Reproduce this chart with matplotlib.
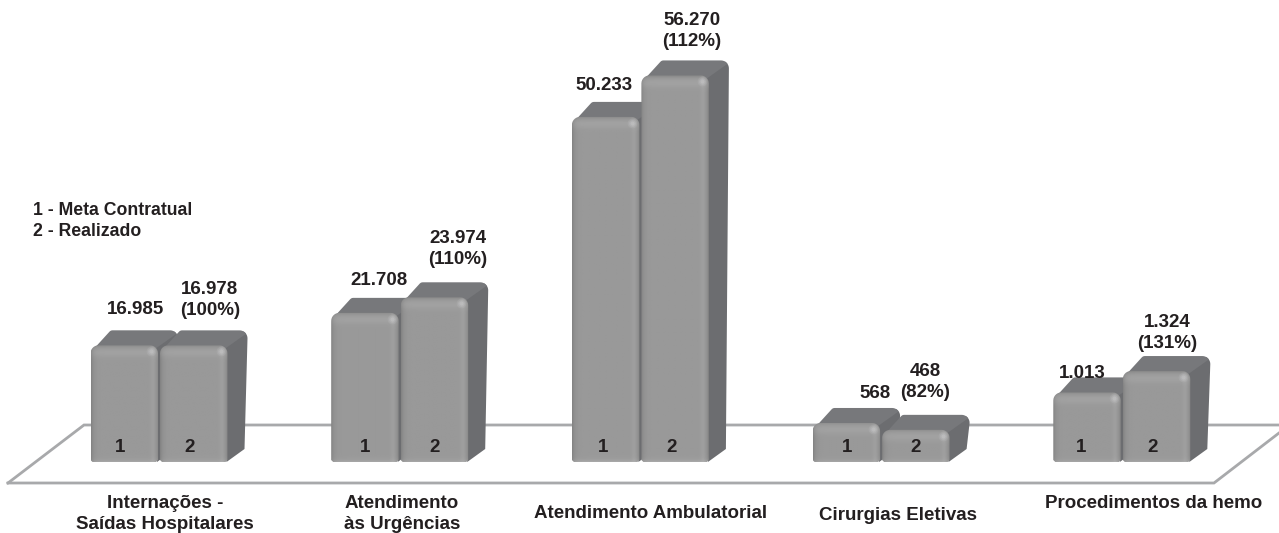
import numpy as np
import matplotlib
matplotlib.use("Agg")
import matplotlib.pyplot as plt
from matplotlib.patches import Polygon

plt.rcParams['font.family'] = ['Liberation Sans', 'DejaVu Sans']

# --- data -----------------------------------------------------------------
categories = ["Internações -\nSaídas Hospitalares", "Atendimento\nàs Urgências",
              "Atendimento Ambulatorial", "Cirurgias Eletivas", "Procedimentos da hemo"]
meta = [16985, 21708, 50233, 568, 1013]
realizado = [16978, 23974, 56270, 468, 1324]
percent = [100, 110, 112, 82, 131]
meta_labels = ["16.985", "21.708", "50.233", "568", "1.013"]
real_labels = ["16.978", "23.974", "56.270", "468", "1.324"]
# the two small groups are drawn at ten times their value in the original
draw_factor = [1, 1, 1, 10, 10]

# --- layout ---------------------------------------------------------------
W, H = 1279, 533
BASE_PX = 462
PX_PER_UNIT = 6.87 / 1000
K = 1 / PX_PER_UNIT
GROUP_X0, GROUP_STEP = 90.5, 240.7
BAR_W, BAR_GAP = 67.5, 2
DEPTH_X, DEPTH_Y = 20, 15
RADIUS = 8

meta_label_pos = [(135, 309.5), (379, 280.5), (604, 85.5), (875, 394), (1082, 373.5)]
real_label_pos = [(210, 300), (458, 249), (692, 31), (925, 382), (1167, 333)]
cat_label_pos = [(165, 514), (402, 514), (651, 513), (898, 515), (1154, 504)]
num_label_x = [(120, 190), (365, 435), (603, 672), (847, 916), (1081, 1153)]
FS = 13.5


def py(p):
    """pixel row to y data value"""
    return (BASE_PX - p) * K


fig = plt.figure(figsize=(W / 100, H / 100), dpi=100, facecolor='white')
ax = fig.add_axes([0, 0, 1, 1])
ax.set_axis_off()


def arc(cx, cy, r, a0, a1, n=8):
    """points of an arc given in pixel offsets, y in data units"""
    t = np.radians(np.linspace(a0, a1, n))
    return np.c_[cx + r * np.cos(t), cy + r * np.sin(t) * K]


def front_path(x0, x1, h):
    r = RADIUS
    b = 2
    pts = [np.array([[x0, b * K]]),
           arc(x0 + r, h - r * K, r, 180, 90),
           arc(x1 - r, h - r * K, r, 90, 0),
           np.array([[x1, b * K], [x1 - b, 0], [x0 + b, 0]])]
    return np.vstack(pts)


def gradient(nx=80, ny=300):
    u = np.linspace(0, 1, nx) * BAR_W  # pixels from the left
    g = 153.0 * np.ones(nx)
    g -= 22 * np.exp(-u / 2.5)
    g += 7 * np.exp(-((u - BAR_W + 5.5) / 2.5) ** 2)
    g -= 22 * np.exp(-(BAR_W - u) / 1.8)
    return np.tile(g, (ny, 1))


def draw_bar(x0, h):
    x1 = x0 + BAR_W
    dy = DEPTH_Y * K
    r = RADIUS
    # side
    side = np.vstack([np.array([[x1 - 1, 0], [x1 + DEPTH_X - 3, dy - 2 * K]]),
                      arc(x1 + DEPTH_X - r, h + dy - r * K, r, 0, 60),
                      np.array([[x1 - 6, h]])])
    ax.add_patch(Polygon(side, closed=True, fc='#6c6d70', ec='none', zorder=3))
    # top
    top = np.vstack([np.array([[x0 + 2, h - 5 * K]]),
                     arc(x0 + DEPTH_X + 2, h + dy - 4 * K, 4, 135, 90, 4),
                     arc(x1 + DEPTH_X - r, h + dy - r * K, r, 90, 35),
                     np.array([[x1 - 2, h - 3 * K]])])
    ax.add_patch(Polygon(top, closed=True, fc='#77787b', ec='none', zorder=3))
    # front with shading
    clip = Polygon(front_path(x0, x1, h), closed=True, transform=ax.transData,
                   fc='none', ec='none')
    ax.add_patch(clip)
    G = gradient()
    px_h = h * PX_PER_UNIT
    ny = G.shape[0]
    row = np.arange(ny) / (ny - 1) * px_h
    G = G - 18 * np.exp(-row / 2.0)[:, None]
    G = G + 9 * np.exp(-((row - 7) / 5.0) ** 2)[:, None]
    G = G + 14 * np.exp(-(px_h - row) / 2.0)[:, None]
    im = ax.imshow(np.clip(G, 0, 255) / 255, cmap='gray', vmin=0, vmax=1,
                   extent=(x0, x1, 0, h), aspect='auto', origin='upper', zorder=4,
                   interpolation='bilinear')
    im.set_clip_path(clip)
    # soft corner highlight
    for ms, a in ((7, 0.15), (5, 0.2), (3, 0.3)):
        ax.plot([x1 - 7], [h - 6 * K], 'o', ms=ms, mfc='#d0d0d2', mec='none',
                alpha=a, zorder=5)


# platform outline (behind the bars)
ax.plot([8, 84, 1279], [py(483), py(425), py(425)], color='#a8a9ab', lw=2.0, zorder=1,
        solid_joinstyle='miter')
ax.plot([1279, 1214, 8], [py(433), py(483), py(483)], color='#a8a9ab', lw=2.0, zorder=1,
        solid_joinstyle='miter')

for i in range(len(categories)):
    gx = GROUP_X0 + i * GROUP_STEP
    draw_bar(gx, meta[i] * draw_factor[i])
    draw_bar(gx + BAR_W + BAR_GAP, realizado[i] * draw_factor[i])
    for j, nm in enumerate(("1", "2")):
        ax.text(num_label_x[i][j], py(448), nm, ha='center', va='center', fontsize=FS,
                fontweight='bold', color='#231f20', zorder=6)
    x, y = meta_label_pos[i]
    ax.text(x, py(y), meta_labels[i], ha='center', va='center', fontsize=FS,
            fontweight='bold', color='#231f20', zorder=7)
    x, y = real_label_pos[i]
    ax.text(x, py(y), f"{real_labels[i]}\n({percent[i]}%)", ha='center', va='center',
            fontsize=FS, fontweight='bold', color='#231f20', linespacing=1.25, zorder=7)
    x, y = cat_label_pos[i]
    ax.text(x, py(y), categories[i], ha='center', va='center', fontsize=FS,
            fontweight='bold', color='#231f20', linespacing=1.25, zorder=7)

ax.text(33, py(221), "1 - Meta Contratual\n2 - Realizado", ha='left', va='center',
        fontsize=12.7, fontweight='bold', color='#231f20', linespacing=1.25, zorder=7)

ax.set_xlim(0, W)
ax.set_ylim(py(H), py(0))
fig.savefig("out.png", dpi=100)
